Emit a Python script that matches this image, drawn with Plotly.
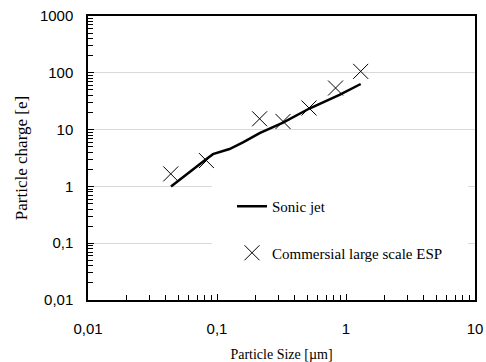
import plotly.graph_objects as go

# Data
sonic_size = [0.044, 0.051, 0.065, 0.080, 0.093, 0.125, 0.159, 0.214, 0.325, 0.52, 0.89, 1.30]
sonic_charge = [1.0, 1.31, 1.97, 2.87, 3.7, 4.55, 5.95, 8.7, 13.3, 23.5, 41, 63.5]

esp_size = [0.0438, 0.0828, 0.214, 0.325, 0.517, 0.83, 1.30]
esp_charge = [1.66, 2.85, 15.5, 13.9, 24, 54, 106]

x_tickvals = [0.01, 0.1, 1, 10]
x_ticktext = ["0,01", "0,1", "1", "10"]
y_tickvals = [0.01, 0.1, 1, 10, 100, 1000]
y_ticktext = ["0,01", "0,1", "1", "10", "100", "1000"]

# minor tick positions: 2..9 within each decade
x_minor = [m * d for d in x_tickvals[:-1] for m in range(2, 10)]
y_minor = [m * d for d in y_tickvals[:-1] for m in range(2, 10)]

serif = "Liberation Serif, Times New Roman, serif"
sans = "Liberation Sans, Arial, sans-serif"

fig = go.Figure()
fig.add_trace(go.Scatter(
    x=sonic_size, y=sonic_charge, mode="lines", name="Sonic jet",
    line=dict(color="black", width=2.5), legendgroup="a",
))
fig.add_trace(go.Scatter(
    x=esp_size, y=esp_charge, mode="markers", name="Commersial large scale ESP",
    marker=dict(symbol="x-thin-open", size=15, color="black",
                line=dict(color="black", width=1)),
    legendgroup="b",
))

pw = 486 - 88 - 11
ph = 362 - 16 - 62

fig.update_layout(
    width=486, height=362,
    margin=dict(l=88, r=11, t=16, b=62, autoexpand=False),
    paper_bgcolor="white", plot_bgcolor="white",
    showlegend=True,
    legend=dict(
        x=(212 - 88) / pw, y=(300 - 170) / ph, xref="paper", yref="paper",
        font=dict(family=serif, size=15, color="black"),
        bgcolor="white", bordercolor="white", borderwidth=20,
        tracegroupgap=24, traceorder="grouped",
        xanchor="left", yanchor="top",
    ),
)

fig.update_xaxes(
    type="log", range=[-2, 1], automargin=False,
    tickmode="array", tickvals=x_tickvals, ticktext=x_ticktext,
    tickfont=dict(family=sans, size=15, color="black"),
    ticks="inside", ticklen=6, tickcolor="black",
    minor=dict(ticks="inside", ticklen=5, tickwidth=1, tickcolor="black",
               tickmode="array", tickvals=x_minor, showgrid=False),
    showline=True, linecolor="black", linewidth=1.5, mirror=True,
    showgrid=False, zeroline=False,
    ticklabelstandoff=14,
    title=dict(text="Particle Size [µm]", font=dict(family=serif, size=14, color="black"), standoff=13),
)
fig.update_yaxes(
    type="log", range=[-2, 3], automargin=False,
    tickmode="array", tickvals=y_tickvals, ticktext=y_ticktext,
    tickfont=dict(family=sans, size=15, color="black"),
    ticks="inside", ticklen=6, tickcolor="black",
    minor=dict(ticks="inside", ticklen=5, tickwidth=1, tickcolor="black",
               tickmode="array", tickvals=y_minor, showgrid=False),
    showline=True, linecolor="black", linewidth=1.5, mirror=True,
    showgrid=True, gridcolor="#d9d9d9", gridwidth=1, zeroline=False,
    ticklabelstandoff=10,
    title=dict(text="Particle charge [e]", font=dict(family=serif, size=17, color="black"), standoff=8),
)

fig.write_html("out.html")
